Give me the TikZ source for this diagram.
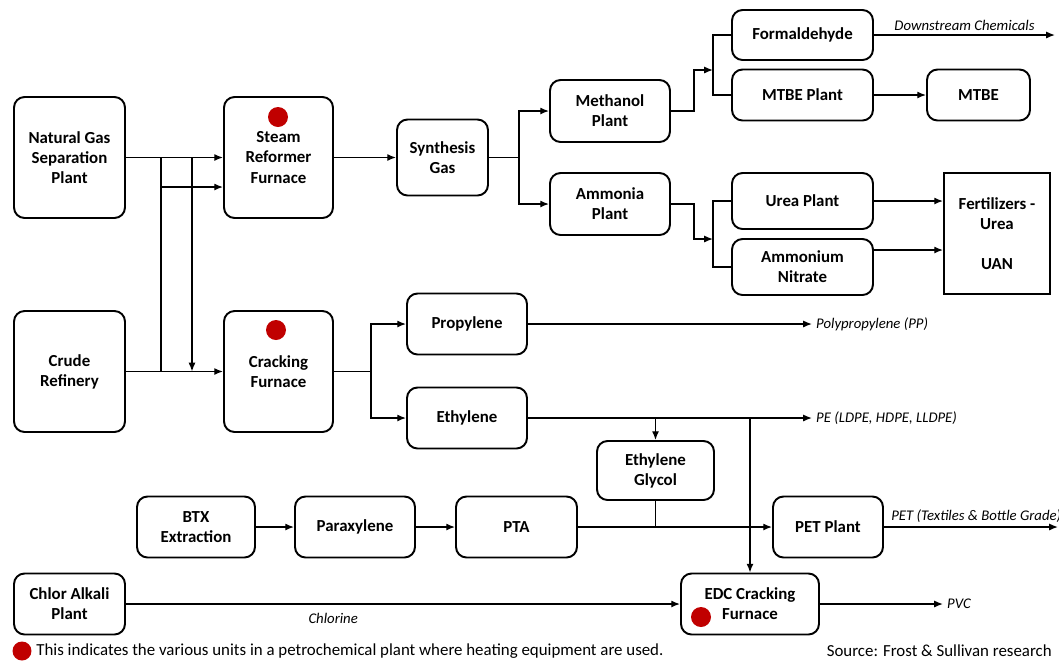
\documentclass[tikz,border=0pt]{standalone}
\usepackage{fontspec}
\setmainfont{Carlito}
\usetikzlibrary{arrows.meta}
\definecolor{heatred}{RGB}{192,0,0}

\begin{document}
\begin{tikzpicture} [x=0.02cm,y=-0.02cm,
  unitbox/.style={draw,line width=1.1pt,rounded corners=6pt,align=center,
    font=\fontsize{9.6}{11.4}\selectfont\bfseries,inner sep=1pt},
  flow/.style={line width=0.8pt,-{Latex[length=5pt,width=4pt]}},
  link/.style={line width=0.8pt},
  outlabel/.style={font=\fontsize{8.4}{10}\selectfont\itshape,inner sep=2pt},
  heatdot/.style={circle,fill=heatred,minimum size=0.4cm,inner sep=0pt},
  notetext/.style={font=\fontsize{9.6}{11}\selectfont,inner sep=0pt}]
  \useasboundingbox (0,0) rectangle (1059,664);

  % feed units
  \node [unitbox,minimum width=2.22cm,minimum height=2.42cm] (ng) at (69.5,157.5) {Natural Gas\\Separation\\Plant};
  \node [unitbox,minimum width=2.22cm,minimum height=2.42cm] (cr) at (69.5,371.5) {Crude\\Refinery};
  \node [unitbox,minimum width=2.18cm,minimum height=2.42cm] (sr) at (278.5,157.5) {Steam\\Reformer\\Furnace};
  \node [unitbox,minimum width=2.18cm,minimum height=2.42cm] (cf) at (278.5,371.5) {Cracking\\Furnace};
  \node [heatdot] (dsr) at (278,117) {};
  \node [heatdot] (dcf) at (276,330) {};

  % synthesis gas chain
  \node [unitbox,minimum width=1.82cm,minimum height=1.52cm] (sg) at (442.5,157.5) {Synthesis\\Gas};
  \node [unitbox,minimum width=2.4cm,minimum height=1.24cm] (mp) at (610,111) {Methanol\\Plant};
  \node [unitbox,minimum width=2.4cm,minimum height=1.24cm] (ap) at (610,204) {Ammonia\\Plant};
  \node [unitbox,minimum width=2.82cm,minimum height=1.0cm] (fd) at (802.5,35) {Formaldehyde};
  \node [unitbox,minimum width=2.82cm,minimum height=1.02cm] (mb) at (802.5,95) {MTBE Plant};
  \node [unitbox,minimum width=2.06cm,minimum height=1.02cm] (mt) at (978.5,95) {MTBE};
  \node [unitbox,minimum width=2.82cm,minimum height=1.12cm] (up) at (802.5,201) {Urea Plant};
  \node [unitbox,minimum width=2.82cm,minimum height=1.12cm] (an) at (802.5,267) {Ammonium\\Nitrate};
  \node [unitbox,rounded corners=0pt,minimum width=2.12cm,minimum height=2.42cm] (fz) at (997,233.5) {Fertilizers -\\Urea\\[11.4pt]UAN};

  % olefins and aromatics
  \node [unitbox,minimum width=2.4cm,minimum height=1.22cm] (pr) at (467,324) {Propylene};
  \node [unitbox,minimum width=2.4cm,minimum height=1.22cm] (et) at (467,418) {Ethylene};
  \node [unitbox,minimum width=2.34cm,minimum height=1.18cm] (eg) at (655.5,470.5) {Ethylene\\Glycol};
  \node [unitbox,minimum width=2.36cm,minimum height=1.22cm] (btx) at (196,527) {BTX\\Extraction};
  \node [unitbox,minimum width=2.4cm,minimum height=1.22cm] (px) at (355,527) {Paraxylene};
  \node [unitbox,minimum width=2.42cm,minimum height=1.22cm] (pta) at (516.5,527) {PTA};
  \node [unitbox,minimum width=2.2cm,minimum height=1.22cm] (pet) at (828,527) {PET Plant};
  \node [unitbox,minimum width=2.22cm,minimum height=1.22cm] (ca) at (69.5,604) {Chlor Alkali\\Plant};
  \node [unitbox,minimum width=2.76cm,minimum height=1.22cm] (edc) at (750,604) {EDC Cracking\\Furnace};
  \node [heatdot] (dedc) at (701,617) {};

  % junctions and free ends
  \coordinate (ja) at (161,157.5);
  \coordinate (jb) at (192,157.5);
  \coordinate (jc) at (161,187);
  \coordinate (js) at (519,157.5);
  \coordinate (jm) at (713,70);
  \coordinate (jn) at (713,239);
  \coordinate (ka) at (873,250);
  \coordinate (jk) at (371,371.5);
  \coordinate (out1) at (1055,35);
  \coordinate (out2) at (812,324);
  \coordinate (out3) at (812,418);
  \coordinate (out4) at (1058,527);
  \coordinate (out5) at (943,604);

  % feed connections
  \draw [flow] (ng) -- (sr);
  \draw [flow] (cr) -- (cf);
  \draw [link] (ja) -- (ja |- cr);
  \draw [flow] (jb) -- (jb |- cr);
  \draw [flow] (jc) -- (jc -| sr.west);

  % synthesis gas
  \draw [flow] (sr) -- (sg);
  \draw [link] (sg) -- (js);
  \draw [flow] (js) |- (mp);
  \draw [flow] (js) |- (ap);
  \draw [flow] (mp.east) -- ++(23,0) |- (jm);
  \draw [link] (fd.west) -| (jm) |- (mb.west);
  \draw [flow] (ap.east) -- ++(23,0) |- (jn);
  \draw [link] (up.west) -| (jn) |- (an.west);
  \draw [flow] (fd) -- (out1) node [midway,above,outlabel] {Downstream Chemicals};
  \draw [flow] (mb) -- (mt);
  \draw [flow] (up) -- (up -| fz.west);
  \draw [flow] (ka) -- (ka -| fz.west);

  % cracking
  \draw [link] (cf) -- (jk);
  \draw [flow] (jk) |- (pr);
  \draw [flow] (jk) |- (et);
  \draw [flow] (pr) -- (out2) node [right,outlabel] {Polypropylene (PP)};
  \draw [flow] (et) -- (out3) node [right,outlabel] {PE (LDPE, HDPE, LLDPE)};
  \draw [flow] (eg |- et) -- (eg);
  \draw [flow] (edc |- et) -- (edc);

  % aromatics and PET
  \draw [flow] (btx) -- (px);
  \draw [flow] (px) -- (pta);
  \draw [flow] (pta) -- (pet);
  \draw [link] (eg) -- (eg |- pta);
  \draw [flow] (pet) -- (out4) node [midway,above,xshift=3pt,outlabel] {PET (Textiles \& Bottle Grade)};

  % chlorine and PVC
  \draw [flow] (ca) -- (edc) node [pos=0.374,below=3pt,outlabel] {Chlorine};
  \draw [flow] (edc) -- (out5) node [right,outlabel] {PVC};

  % footnote
  \node [heatdot,minimum size=0.38cm] (dnote) at (22,651) {};
  \node [notetext,anchor=west] (note) at (36,651) {This indicates the various units in a petrochemical plant where heating equipment are used.};
  \node [notetext,anchor=east] (src) at (1052,651) {Source: Frost \& Sullivan research};
\end{tikzpicture}
\end{document}
